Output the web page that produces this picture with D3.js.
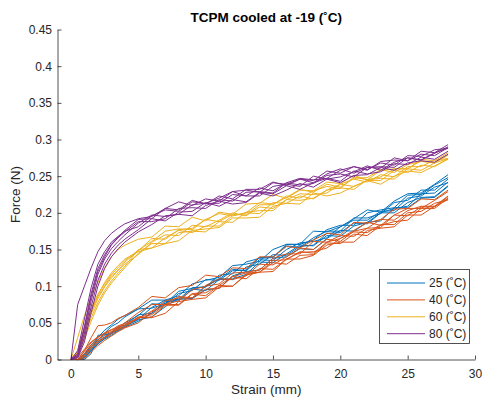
<!DOCTYPE html>
<html><head><meta charset="utf-8">
<script src="https://cdn.jsdelivr.net/npm/d3@7"></script>
<style>body{margin:0;background:#fff}svg{display:block;font-family:"Liberation Sans",Arial,sans-serif}</style>
</head><body><svg id="c" width="483" height="398"></svg>
<script>
// strain grid (mm)
const strain = [0,0.5,1,1.5,2,2.5,3,3.5,4,5,6,7,8,9,10,11,12,13,14,15,16,17,18,19,20,21,22,23,24,25,26,27,28];
const seriesNames = ["25 (˚C)","40 (˚C)","60 (˚C)","80 (˚C)"];
const seriesColors = ["#0072BD","#D95319","#EDB120","#7E2F8E"];
const xTicks = [0,5,10,15,20,25,30];
const yTicks = [0,0.05,0.1,0.15,0.2,0.25,0.3,0.35,0.4,0.45];

// Force (N) of each repeated test, per temperature
const force25 = [
 [0,0,0.004,0.015,0.024,0.03,0.037,0.044,0.047,0.061,0.063,0.079,0.08,0.096,0.094,0.109,0.109,0.126,0.13,0.143,0.142,0.154,0.156,0.172,0.173,0.186,0.185,0.2,0.206,0.209,0.226,0.227,0.242],
 [0,0,0.007,0.018,0.027,0.033,0.036,0.042,0.05,0.06,0.076,0.075,0.09,0.094,0.109,0.108,0.121,0.122,0.139,0.14,0.155,0.153,0.166,0.175,0.175,0.193,0.193,0.199,0.214,0.217,0.231,0.231,0.246],
 [0,0,0.002,0.012,0.021,0.029,0.035,0.04,0.046,0.054,0.058,0.072,0.084,0.083,0.095,0.097,0.114,0.12,0.122,0.138,0.14,0.151,0.15,0.165,0.176,0.175,0.187,0.189,0.207,0.207,0.22,0.221,0.236],
 [0,0,0,0.008,0.033,0.034,0.036,0.041,0.045,0.055,0.071,0.081,0.082,0.098,0.099,0.11,0.123,0.121,0.136,0.135,0.15,0.159,0.161,0.166,0.181,0.19,0.19,0.202,0.203,0.22,0.223,0.235,0.241],
 [0,0,0.006,0.017,0.026,0.036,0.045,0.05,0.058,0.069,0.081,0.081,0.087,0.103,0.108,0.112,0.128,0.13,0.134,0.15,0.157,0.157,0.175,0.174,0.181,0.192,0.204,0.201,0.216,0.226,0.227,0.239,0.252],
 [0,0,0.003,0.013,0.022,0.028,0.033,0.039,0.044,0.052,0.063,0.077,0.082,0.083,0.1,0.11,0.11,0.116,0.133,0.132,0.144,0.156,0.155,0.169,0.168,0.182,0.187,0.2,0.2,0.214,0.221,0.222,0.237],
 [0,0,0.008,0.02,0.03,0.04,0.047,0.055,0.06,0.069,0.07,0.076,0.093,0.097,0.099,0.115,0.117,0.133,0.138,0.139,0.157,0.157,0.163,0.177,0.183,0.183,0.2,0.204,0.207,0.224,0.225,0.238,0.248]
];
const force40 = [
 [0,0,0.008,0.02,0.027,0.035,0.038,0.045,0.047,0.058,0.061,0.075,0.086,0.084,0.096,0.097,0.113,0.118,0.119,0.135,0.136,0.147,0.145,0.16,0.169,0.168,0.179,0.18,0.197,0.196,0.208,0.208,0.222],
 [0,0,0.011,0.023,0.03,0.036,0.041,0.043,0.05,0.064,0.075,0.075,0.08,0.095,0.1,0.103,0.118,0.119,0.122,0.138,0.144,0.144,0.161,0.16,0.165,0.176,0.187,0.183,0.197,0.206,0.206,0.217,0.229],
 [0,0,0.005,0.017,0.025,0.031,0.037,0.042,0.046,0.057,0.058,0.074,0.074,0.089,0.087,0.101,0.1,0.116,0.119,0.132,0.13,0.142,0.143,0.159,0.158,0.171,0.169,0.183,0.188,0.19,0.206,0.206,0.22],
 [0,0,0.012,0.03,0.046,0.047,0.05,0.056,0.06,0.071,0.086,0.084,0.098,0.101,0.115,0.113,0.125,0.124,0.14,0.14,0.154,0.152,0.163,0.172,0.17,0.187,0.186,0.191,0.205,0.206,0.219,0.218,0.231],
 [0,0.003,0.014,0.024,0.031,0.036,0.04,0.046,0.049,0.056,0.066,0.08,0.084,0.084,0.101,0.11,0.109,0.114,0.13,0.129,0.14,0.152,0.15,0.164,0.161,0.175,0.179,0.191,0.19,0.203,0.209,0.209,0.223],
 [0,0,0.004,0.015,0.023,0.03,0.035,0.041,0.044,0.057,0.057,0.063,0.079,0.082,0.084,0.099,0.1,0.115,0.119,0.12,0.137,0.137,0.142,0.156,0.16,0.16,0.176,0.179,0.181,0.197,0.197,0.209,0.218],
 [0,0,0.001,0.01,0.019,0.026,0.032,0.038,0.043,0.05,0.065,0.075,0.075,0.09,0.091,0.101,0.113,0.11,0.124,0.123,0.137,0.146,0.147,0.152,0.165,0.174,0.173,0.184,0.184,0.2,0.202,0.213,0.218]
];
const force60 = [
 [0,0.008,0.038,0.062,0.083,0.099,0.111,0.122,0.13,0.143,0.16,0.17,0.169,0.183,0.181,0.19,0.2,0.196,0.208,0.206,0.218,0.226,0.225,0.227,0.239,0.246,0.242,0.252,0.249,0.263,0.263,0.272,0.274],
 [0,0.012,0.045,0.07,0.089,0.103,0.116,0.125,0.135,0.149,0.161,0.175,0.178,0.177,0.191,0.199,0.196,0.2,0.214,0.212,0.221,0.232,0.228,0.239,0.235,0.247,0.248,0.259,0.255,0.266,0.27,0.268,0.279],
 [0,0.006,0.032,0.057,0.078,0.094,0.107,0.118,0.127,0.15,0.152,0.158,0.173,0.175,0.174,0.188,0.187,0.201,0.203,0.203,0.218,0.217,0.22,0.231,0.234,0.232,0.245,0.247,0.246,0.26,0.258,0.268,0.274],
 [0,0.03,0.06,0.085,0.105,0.125,0.14,0.15,0.156,0.164,0.167,0.182,0.181,0.194,0.189,0.201,0.198,0.212,0.213,0.225,0.22,0.231,0.23,0.242,0.24,0.251,0.245,0.258,0.26,0.26,0.273,0.271,0.282],
 [0,0.01,0.041,0.066,0.086,0.1,0.114,0.121,0.133,0.148,0.165,0.164,0.177,0.179,0.191,0.188,0.198,0.197,0.211,0.211,0.223,0.22,0.23,0.236,0.233,0.249,0.245,0.249,0.26,0.26,0.271,0.268,0.279],
 [0,0.004,0.028,0.052,0.074,0.091,0.104,0.115,0.125,0.145,0.158,0.158,0.162,0.176,0.178,0.18,0.193,0.193,0.194,0.209,0.213,0.212,0.227,0.223,0.227,0.236,0.244,0.239,0.25,0.257,0.255,0.264,0.273],
 [0,0.009,0.036,0.064,0.088,0.105,0.118,0.128,0.137,0.147,0.152,0.166,0.176,0.173,0.182,0.182,0.196,0.2,0.199,0.214,0.213,0.223,0.219,0.231,0.239,0.236,0.244,0.244,0.258,0.255,0.265,0.263,0.274]
];
const force80 = [
 [0,0.005,0.036,0.08,0.116,0.137,0.151,0.161,0.17,0.186,0.197,0.195,0.198,0.211,0.213,0.213,0.225,0.223,0.223,0.236,0.239,0.236,0.25,0.246,0.249,0.256,0.264,0.258,0.269,0.275,0.272,0.281,0.29],
 [0,0.008,0.045,0.09,0.124,0.143,0.157,0.167,0.176,0.191,0.192,0.206,0.204,0.217,0.212,0.223,0.219,0.232,0.232,0.242,0.237,0.246,0.244,0.257,0.254,0.263,0.258,0.27,0.272,0.271,0.284,0.282,0.293],
 [0,0.003,0.03,0.072,0.108,0.13,0.145,0.156,0.164,0.177,0.192,0.189,0.201,0.202,0.214,0.209,0.218,0.215,0.228,0.226,0.237,0.232,0.241,0.247,0.243,0.257,0.253,0.256,0.267,0.266,0.276,0.273,0.284],
 [0,0.075,0.1,0.125,0.147,0.162,0.172,0.179,0.185,0.192,0.195,0.206,0.215,0.21,0.219,0.216,0.229,0.231,0.228,0.241,0.239,0.246,0.241,0.253,0.26,0.254,0.262,0.261,0.275,0.271,0.28,0.278,0.289],
 [0,0.012,0.055,0.098,0.13,0.147,0.16,0.168,0.175,0.181,0.196,0.204,0.202,0.215,0.213,0.22,0.229,0.223,0.234,0.23,0.241,0.247,0.245,0.247,0.258,0.263,0.259,0.268,0.265,0.278,0.277,0.286,0.288],
 [0,0.002,0.024,0.064,0.1,0.124,0.14,0.151,0.16,0.174,0.184,0.196,0.198,0.196,0.21,0.216,0.212,0.214,0.227,0.223,0.231,0.24,0.235,0.246,0.241,0.251,0.252,0.262,0.258,0.268,0.271,0.269,0.28],
 [0,0.006,0.042,0.086,0.12,0.14,0.156,0.166,0.174,0.188,0.188,0.192,0.206,0.207,0.206,0.218,0.216,0.228,0.229,0.227,0.241,0.238,0.24,0.251,0.253,0.249,0.262,0.263,0.262,0.275,0.272,0.282,0.288]
];
const allForces = [force25, force40, force60, force80];

const svg = d3.select("#c");
const L = 57.5, R = 475, T = 29.5, B = 359.5;
const x = d3.scaleLinear().domain([-1,30]).range([L,R]);
const y = d3.scaleLinear().domain([0,0.45]).range([B,T]);
const ink = "#262626";

const line = d3.line().x((d,i)=>x(strain[i])).y(d=>y(d));
const plot = svg.append("g");
allForces.forEach((curves,si)=>{
  curves.forEach(c=>{
    plot.append("path").datum(c).attr("d",line)
      .attr("fill","none").attr("stroke",seriesColors[si]).attr("stroke-width",1)
      .attr("stroke-linejoin","round");
  });
});

// axes (MATLAB style: ticks inside)
const xAxis = d3.axisBottom(x).tickValues(xTicks).tickSizeInner(-4).tickSizeOuter(0).tickPadding(9.5).tickFormat(d3.format("~g"));
const yAxis = d3.axisLeft(y).tickValues(yTicks).tickSizeInner(-4).tickSizeOuter(0).tickPadding(5.5).tickFormat(d3.format("~g"));
const gx = svg.append("g").attr("transform",`translate(0,${B})`).call(xAxis);
const gy = svg.append("g").attr("transform",`translate(${L},0)`).call(yAxis);
[gx,gy].forEach(g=>{
  g.select(".domain").attr("stroke",ink).attr("stroke-width",0.8);
  g.selectAll(".tick line").attr("stroke",ink).attr("stroke-width",0.8);
  g.selectAll(".tick text").attr("fill",ink).style("font-size","12px").style("font-family","Liberation Sans, Arial, sans-serif");
});

svg.append("text").attr("x",(L+R)/2).attr("y",22).attr("text-anchor","middle")
  .style("font-size","13.5px").style("font-weight","bold").attr("fill","#000").text("TCPM cooled at -19 (˚C)");
svg.append("text").attr("x",(L+R)/2).attr("y",393.5).attr("text-anchor","middle")
  .style("font-size","13.5px").attr("fill",ink).text("Strain (mm)");
svg.append("text").attr("transform",`translate(20,${(T+B)/2}) rotate(-90)`).attr("text-anchor","middle")
  .style("font-size","13.5px").attr("fill",ink).text("Force (N)");

// legend
const lg = svg.append("g");
lg.append("rect").attr("x",379.5).attr("y",269.5).attr("width",90).attr("height",74)
  .attr("fill","#fff").attr("stroke",ink).attr("stroke-width",0.8);
seriesNames.forEach((n,i)=>{
  const yy = 283 + i*16.9;
  lg.append("line").attr("x1",387).attr("x2",425).attr("y1",yy).attr("y2",yy)
    .attr("stroke",seriesColors[i]).attr("stroke-width",1);
  lg.append("text").attr("x",429).attr("y",yy+4.3).style("font-size","12px").attr("fill",ink).text(n);
});
</script></body></html>
